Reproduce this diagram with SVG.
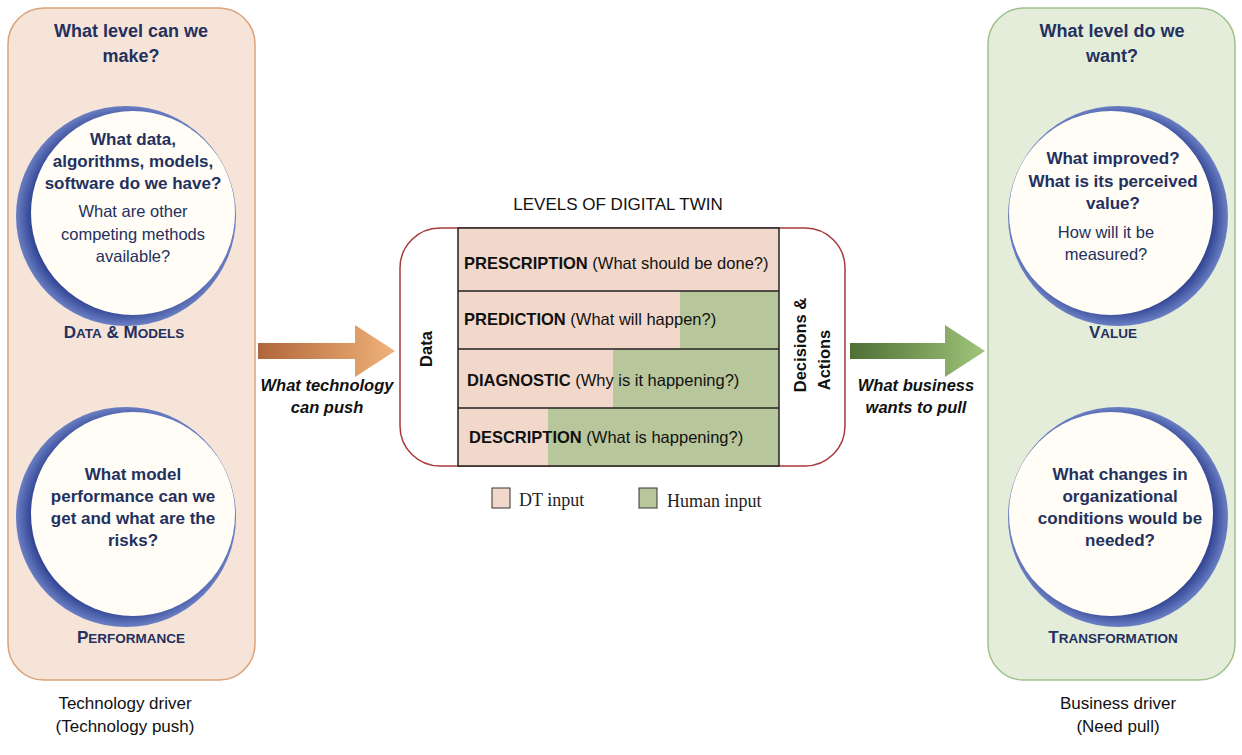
<svg xmlns="http://www.w3.org/2000/svg" width="1242" height="755" viewBox="0 0 1242 755">
<defs>
<linearGradient id="ga" x1="0" x2="1"><stop offset="0" stop-color="#b0663a"/><stop offset="1" stop-color="#f0b27a"/></linearGradient>
<linearGradient id="gb" x1="0" x2="1"><stop offset="0" stop-color="#4f6f35"/><stop offset="1" stop-color="#9fc57a"/></linearGradient>
<radialGradient id="ring" cx="0.5" cy="0.5" r="0.5"><stop offset="0.85" stop-color="#2c3f8f"/><stop offset="1" stop-color="#6b7fc4"/></radialGradient>
</defs>
<style>
.h{font-family:"Liberation Sans",Arial,sans-serif;font-weight:bold;fill:#24305e;text-anchor:middle}
.n{font-family:"Liberation Sans",Arial,sans-serif;fill:#24305e;text-anchor:middle}
.b{font-family:"Liberation Sans",Arial,sans-serif;fill:#111;font-size:16.5px}
.cap{font-family:"Liberation Sans",Arial,sans-serif;fill:#111;text-anchor:middle;font-size:17px}
.inner{fill:#fffdf5}
</style>
<g id="left-panel">
<rect x="8" y="8" width="247" height="672" rx="36" fill="#f6e4d9" stroke="#d9a27a" stroke-width="1.5"/>
<text class="h" font-size="18" x="131" y="37">What level can we</text>
<text class="h" font-size="18" x="131" y="62">make?</text>
</g>
<g id="data-models">
<circle cx="126" cy="216" r="110" fill="url(#ring)"/>
<circle cx="133" cy="213" r="102" class="inner"/>
<text class="h" font-size="17" x="133" y="145">What data,</text>
<text class="h" font-size="17" x="133" y="167">algorithms, models,</text>
<text class="h" font-size="17" x="133" y="189">software do we have?</text>
<text class="n" font-size="16.5" x="133" y="217">What are other</text>
<text class="n" font-size="16.5" x="133" y="240">competing methods</text>
<text class="n" font-size="16.5" x="133" y="262">available?</text>
<text class="h" font-size="17" x="124" y="338">D<tspan font-size="13.5">ATA</tspan> &amp; M<tspan font-size="13.5">ODELS</tspan></text>
</g>
<g id="performance">
<circle cx="126" cy="517" r="110" fill="url(#ring)"/>
<circle cx="133" cy="514" r="102" class="inner"/>
<text class="h" font-size="17" x="133" y="480">What model</text>
<text class="h" font-size="17" x="133" y="502">performance can we</text>
<text class="h" font-size="17" x="133" y="524">get and what are the</text>
<text class="h" font-size="17" x="133" y="546">risks?</text>
<text class="h" font-size="17" x="131" y="643">P<tspan font-size="13.5">ERFORMANCE</tspan></text>
</g>
<text class="cap" x="125" y="709">Technology driver</text>
<text class="cap" x="125" y="732">(Technology push)</text>
<g id="right-panel">
<rect x="988" y="8" width="247" height="672" rx="36" fill="#e4edd9" stroke="#9fc08a" stroke-width="1.5"/>
<text class="h" font-size="18" x="1112" y="37">What level do we</text>
<text class="h" font-size="18" x="1112" y="62">want?</text>
</g>
<g id="value">
<circle cx="1118" cy="216" r="110" fill="url(#ring)"/>
<circle cx="1111" cy="213" r="102" class="inner"/>
<text class="h" font-size="17" x="1113" y="164">What improved?</text>
<text class="h" font-size="17" x="1113" y="187">What is its perceived</text>
<text class="h" font-size="17" x="1113" y="209">value?</text>
<text class="n" font-size="16.5" x="1106" y="238">How will it be</text>
<text class="n" font-size="16.5" x="1106" y="260">measured?</text>
<text class="h" font-size="17" x="1113" y="338">V<tspan font-size="13.5">ALUE</tspan></text>
</g>
<g id="transformation">
<circle cx="1118" cy="517" r="110" fill="url(#ring)"/>
<circle cx="1111" cy="514" r="102" class="inner"/>
<text class="h" font-size="17" x="1120" y="480">What changes in</text>
<text class="h" font-size="17" x="1120" y="502">organizational</text>
<text class="h" font-size="17" x="1120" y="524">conditions would be</text>
<text class="h" font-size="17" x="1120" y="546">needed?</text>
<text class="h" font-size="17" x="1113" y="643">T<tspan font-size="13.5">RANSFORMATION</tspan></text>
</g>
<text class="cap" x="1118" y="709">Business driver</text>
<text class="cap" x="1118" y="732">(Need pull)</text>
<g id="levels">
<text class="cap" x="618" y="210">LEVELS OF DIGITAL TWIN</text>
<rect x="400" y="228" width="445" height="238" rx="40" fill="#fff" stroke="#a83a3a" stroke-width="1.5"/>
<rect x="458" y="228" width="321" height="238" fill="#f2d8ca"/>
<rect x="680" y="291" width="99" height="58" fill="#b8c69b"/>
<rect x="613" y="349" width="166" height="59" fill="#b8c69b"/>
<rect x="548" y="408" width="231" height="58" fill="#b8c69b"/>
<g stroke="#222" stroke-width="1.5" fill="none">
<rect x="458" y="228" width="321" height="238"/>
<line x1="458" y1="291" x2="779" y2="291"/>
<line x1="458" y1="349" x2="779" y2="349"/>
<line x1="458" y1="408" x2="779" y2="408"/>
</g>
<text class="b" x="464" y="269"><tspan font-weight="bold">PRESCRIPTION</tspan> (What should be done?)</text>
<text class="b" x="464" y="325"><tspan font-weight="bold">PREDICTION</tspan> (What will happen?)</text>
<text class="b" x="467" y="386"><tspan font-weight="bold">DIAGNOSTIC</tspan> (Why is it happening?)</text>
<text class="b" x="469" y="443"><tspan font-weight="bold">DESCRIPTION</tspan> (What is happening?)</text>
<text class="b" font-weight="bold" transform="translate(432,349) rotate(-90)" text-anchor="middle">Data</text>
<text class="b" font-weight="bold" transform="translate(806,345) rotate(-90)" text-anchor="middle">Decisions &amp;</text>
<text class="b" font-weight="bold" transform="translate(830,360) rotate(-90)" text-anchor="middle">Actions</text>
<rect x="492" y="488" width="18" height="20" fill="#f2d8ca" stroke="#333"/>
<text x="519" y="506" font-family="Liberation Serif,serif" font-size="18" fill="#222">DT input</text>
<rect x="639" y="488" width="18" height="20" fill="#b8c69b" stroke="#333"/>
<text x="667" y="507" font-family="Liberation Serif,serif" font-size="18" fill="#222">Human input</text>
</g>
<g id="connectors">
<polygon points="258,343 355,343 355,325 395,351 355,377 355,359 258,359" fill="url(#ga)"/>
<polygon points="850,343 945,343 945,325 985,351 945,377 945,359 850,359" fill="url(#gb)"/>
<text class="b" font-weight="bold" font-style="italic" x="327" y="391" text-anchor="middle">What technology</text>
<text class="b" font-weight="bold" font-style="italic" x="327" y="413" text-anchor="middle">can push</text>
<text class="b" font-weight="bold" font-style="italic" x="916" y="391" text-anchor="middle">What business</text>
<text class="b" font-weight="bold" font-style="italic" x="916" y="413" text-anchor="middle">wants to pull</text>
</g>
</svg>
